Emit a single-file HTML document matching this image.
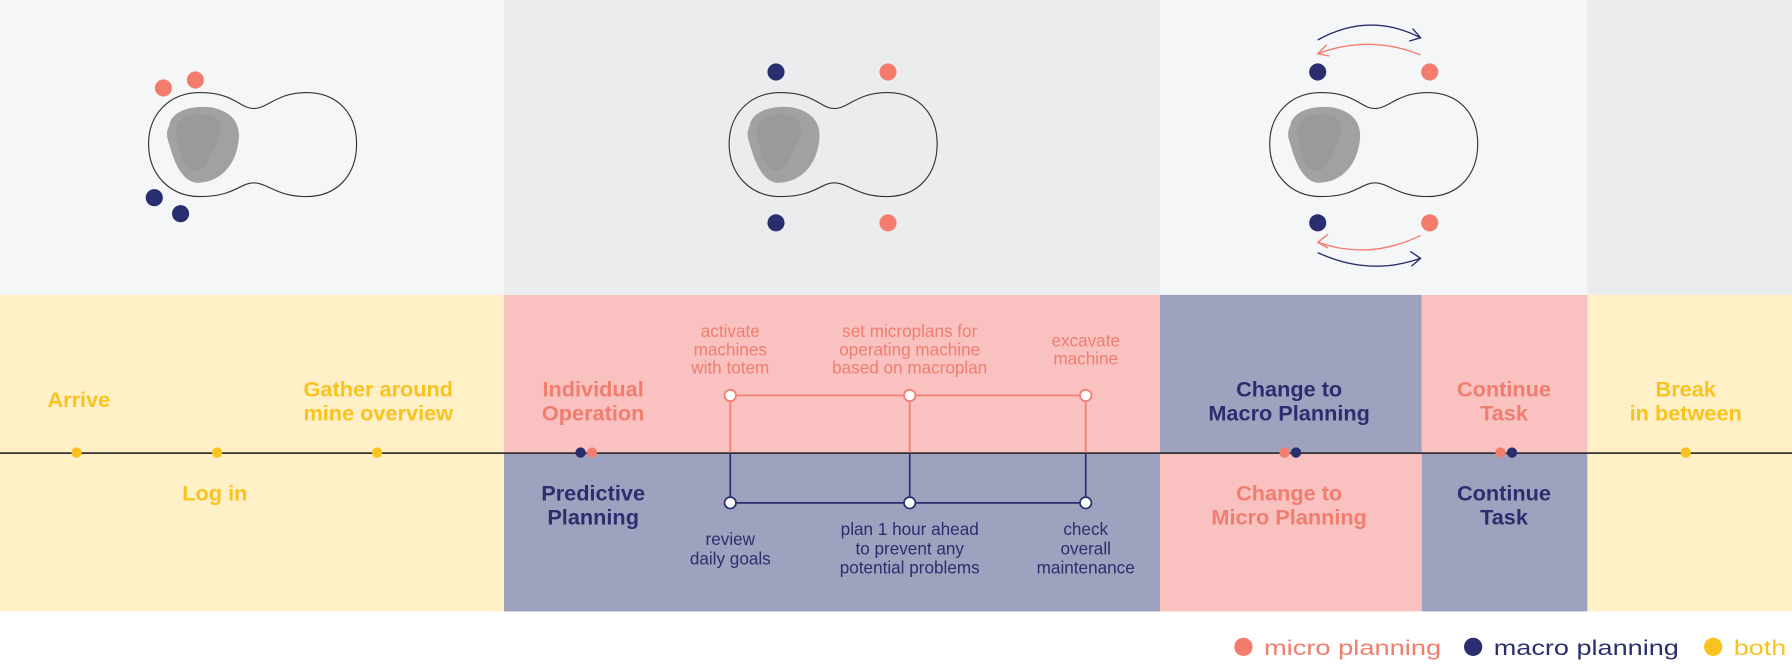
<!DOCTYPE html>
<html><head><meta charset="utf-8"><style>
html,body{margin:0;padding:0;width:1792px;height:664px;overflow:hidden;background:#fff}
#wrap{position:absolute;left:0;top:0;width:1568px;height:581px;transform:scale(1.142857);transform-origin:0 0;font-family:"Liberation Sans",sans-serif}
svg text{font-family:"Liberation Sans",sans-serif}
</style></head><body>
<div id="wrap">
<svg width="1568" height="581" viewBox="0 0 1568 581">
<!-- top panels -->
<rect x="0" y="0" width="441" height="258" fill="#f5f6f8"/>
<rect x="441" y="0" width="574" height="258" fill="#ebecee"/>
<rect x="1015" y="0" width="374" height="258" fill="#f5f6f8"/>
<rect x="1389" y="0" width="179" height="258" fill="#ebecee"/>
<!-- bottom bands -->
<rect x="0" y="258" width="441" height="277" fill="#fff0c8"/>
<rect x="441" y="258" width="574" height="138" fill="#f9c2c0"/>
<rect x="441" y="396" width="574" height="139" fill="#9ea2be"/>
<rect x="1015" y="258" width="229" height="138" fill="#9ea2be"/>
<rect x="1015" y="396" width="229" height="139" fill="#f9c2c0"/>
<rect x="1244" y="258" width="145" height="138" fill="#f9c2c0"/>
<rect x="1244" y="396" width="145" height="139" fill="#9ea2be"/>
<rect x="1389" y="258" width="179" height="277" fill="#fff0c8"/>

<!-- mines -->
<g>
<path d="M175,81 C205,81 210,95 222,95 C234,95 242,81 268,81 C296,81 312,100 312,126 C312,152 296,172 268,172 C242,172 234,160 222,160 C210,160 205,172 175,172 C148,172 130,152 130,126 C130,100 148,81 175,81Z" fill="none" stroke="#333" stroke-width="1"/>
<path d="M148,110 C150,96 170,92 185,94 C205,98 212,110 208,128 C204,148 190,160 172,160 C158,158 152,140 148,126 C145,118 146,114 148,110Z" fill="#a1a1a2"/>
<path d="M156,108 C160,100 175,98 186,102 C196,106 194,118 188,128 C182,140 180,150 170,150 C160,148 158,134 155,122 C153,116 154,112 156,108Z" fill="#999b9b"/>
</g>
<g>
<path d="M683,81 C713,81 718,95 730,95 C742,95 750,81 776,81 C804,81 820,100 820,126 C820,152 804,172 776,172 C750,172 742,160 730,160 C718,160 713,172 683,172 C656,172 638,152 638,126 C638,100 656,81 683,81Z" fill="none" stroke="#333" stroke-width="1"/>
<path d="M656,110 C658,96 678,92 693,94 C713,98 720,110 716,128 C712,148 698,160 680,160 C666,158 660,140 656,126 C653,118 654,114 656,110Z" fill="#a1a1a2"/>
<path d="M664,108 C668,100 683,98 694,102 C704,106 702,118 696,128 C690,140 688,150 678,150 C668,148 666,134 663,122 C661,116 662,112 664,108Z" fill="#999b9b"/>
</g>
<g>
<path d="M1156,81 C1186,81 1191,95 1203,95 C1215,95 1223,81 1249,81 C1277,81 1293,100 1293,126 C1293,152 1277,172 1249,172 C1223,172 1215,160 1203,160 C1191,160 1186,172 1156,172 C1129,172 1111,152 1111,126 C1111,100 1129,81 1156,81Z" fill="none" stroke="#333" stroke-width="1"/>
<path d="M1129,110 C1131,96 1151,92 1166,94 C1186,98 1193,110 1189,128 C1185,148 1171,160 1153,160 C1139,158 1133,140 1129,126 C1126,118 1127,114 1129,110Z" fill="#a1a1a2"/>
<path d="M1137,108 C1141,100 1156,98 1167,102 C1177,106 1175,118 1169,128 C1163,140 1161,150 1151,150 C1141,148 1139,134 1136,122 C1134,116 1135,112 1137,108Z" fill="#999b9b"/>
</g>
<!-- people dots -->
<g>
<circle cx="143" cy="77" r="7.5" fill="#f47c6e"/><circle cx="171" cy="70" r="7.5" fill="#f47c6e"/>
<circle cx="135" cy="173" r="7.5" fill="#2b2e6e"/><circle cx="158" cy="187" r="7.5" fill="#2b2e6e"/>
<circle cx="679" cy="63" r="7.5" fill="#2b2e6e"/><circle cx="777" cy="63" r="7.5" fill="#f47c6e"/>
<circle cx="679" cy="195" r="7.5" fill="#2b2e6e"/><circle cx="777" cy="195" r="7.5" fill="#f47c6e"/>
<circle cx="1153" cy="63" r="7.5" fill="#2b2e6e"/><circle cx="1251" cy="63" r="7.5" fill="#f47c6e"/>
<circle cx="1153" cy="195" r="7.5" fill="#2b2e6e"/><circle cx="1251" cy="195" r="7.5" fill="#f47c6e"/>
</g>
<!-- arrows -->
<g fill="none" stroke-width="1.2">
<path d="M1153,35 Q1198,10 1243,33" stroke="#2b2e6e"/><path d="M1236,25 L1243,33 L1233,36" stroke="#2b2e6e"/>
<path d="M1243,48 Q1198,30 1153,47" stroke="#f47c6e"/><path d="M1161,39 L1153,47 L1163,49" stroke="#f47c6e"/>
<path d="M1243,206 Q1198,228 1153,212" stroke="#f47c6e"/><path d="M1162,205 L1153,212 L1162,217" stroke="#f47c6e"/>
<path d="M1153,221 Q1198,242 1243,226" stroke="#2b2e6e"/><path d="M1234,220 L1243,226 L1235,233" stroke="#2b2e6e"/>
</g>

<!-- timeline -->
<line x1="0" y1="396.5" x2="1568" y2="396.5" stroke="#333" stroke-width="1.5"/>
<g>
<polyline points="639,396 639,346 950,346 950,396" fill="none" stroke="#f47c6e" stroke-width="1.5"/>
<line x1="796" y1="346" x2="796" y2="396" stroke="#f47c6e" stroke-width="1.5"/>
<circle cx="639" cy="346" r="5" fill="#fff" stroke="#f47c6e" stroke-width="1.5"/>
<circle cx="796" cy="346" r="5" fill="#fff" stroke="#f47c6e" stroke-width="1.5"/>
<circle cx="950" cy="346" r="5" fill="#fff" stroke="#f47c6e" stroke-width="1.5"/>
</g>
<g>
<polyline points="639,396 639,440 950,440 950,396" fill="none" stroke="#2b2e6e" stroke-width="1.5"/>
<line x1="796" y1="396" x2="796" y2="440" stroke="#2b2e6e" stroke-width="1.5"/>
<circle cx="639" cy="440" r="5" fill="#fff" stroke="#2b2e6e" stroke-width="1.5"/>
<circle cx="796" cy="440" r="5" fill="#fff" stroke="#2b2e6e" stroke-width="1.5"/>
<circle cx="950" cy="440" r="5" fill="#fff" stroke="#2b2e6e" stroke-width="1.5"/>
</g>
<g>
<circle cx="67" cy="396" r="4.5" fill="#f9c31f"/><circle cx="190" cy="396" r="4.5" fill="#f9c31f"/><circle cx="330" cy="396" r="4.5" fill="#f9c31f"/>
<circle cx="518" cy="396" r="4.5" fill="#f47c6e"/><circle cx="508" cy="396" r="4.5" fill="#2b2e6e"/>
<circle cx="1124" cy="396" r="4.5" fill="#f47c6e"/><circle cx="1134" cy="396" r="4.5" fill="#2b2e6e"/>
<circle cx="1313" cy="396" r="4.5" fill="#f47c6e"/><circle cx="1323" cy="396" r="4.5" fill="#2b2e6e"/>
<circle cx="1475" cy="396" r="4.5" fill="#f9c31f"/>
</g>
<g font-size="19" font-weight="bold" text-anchor="middle">
<text x="69" y="356" fill="#f9c31f">Arrive</text>
<text x="188" y="438" fill="#f9c31f">Log in</text>
<text fill="#f9c31f"><tspan x="331" y="347">Gather around</tspan><tspan x="331" y="368">mine overview</tspan></text>
<text fill="#f07d6e"><tspan x="519" y="347">Individual</tspan><tspan x="519" y="368">Operation</tspan></text>
<text fill="#2b2e6e"><tspan x="519" y="438">Predictive</tspan><tspan x="519" y="459">Planning</tspan></text>
<text fill="#2b2e6e"><tspan x="1128" y="347">Change to</tspan><tspan x="1128" y="368">Macro Planning</tspan></text>
<text fill="#f07d6e"><tspan x="1128" y="438">Change to</tspan><tspan x="1128" y="459">Micro Planning</tspan></text>
<text fill="#f07d6e"><tspan x="1316" y="347">Continue</tspan><tspan x="1316" y="368">Task</tspan></text>
<text fill="#2b2e6e"><tspan x="1316" y="438">Continue</tspan><tspan x="1316" y="459">Task</tspan></text>
<text fill="#f9c31f"><tspan x="1475" y="347">Break</tspan><tspan x="1475" y="368">in between</tspan></text>
</g>
<g font-size="15" text-anchor="middle">
<text fill="#f07d6e"><tspan x="639" y="295">activate</tspan><tspan x="639" y="311">machines</tspan><tspan x="639" y="327">with totem</tspan></text>
<text fill="#f07d6e"><tspan x="796" y="295">set microplans for</tspan><tspan x="796" y="311">operating machine</tspan><tspan x="796" y="327">based on macroplan</tspan></text>
<text fill="#f07d6e"><tspan x="950" y="303">excavate</tspan><tspan x="950" y="319">machine</tspan></text>
<text fill="#2b2e6e"><tspan x="639" y="477">review</tspan><tspan x="639" y="494">daily goals</tspan></text>
<text fill="#2b2e6e"><tspan x="796" y="468">plan 1 hour ahead</tspan><tspan x="796" y="485">to prevent any</tspan><tspan x="796" y="502">potential problems</tspan></text>
<text fill="#2b2e6e"><tspan x="950" y="468">check</tspan><tspan x="950" y="485">overall</tspan><tspan x="950" y="502">maintenance</tspan></text>
</g>
<g font-size="19">
<g><circle cx="1088" cy="566" r="8" fill="#f47c6e"/><text x="1106" y="573" fill="#f07d6e" textLength="155" lengthAdjust="spacingAndGlyphs">micro planning</text></g>
<g><circle cx="1289" cy="566" r="8" fill="#2b2e6e"/><text x="1307" y="573" fill="#2b2e6e" textLength="162" lengthAdjust="spacingAndGlyphs">macro planning</text></g>
<g><circle cx="1499" cy="566" r="8" fill="#f9c31f"/><text x="1517" y="573" fill="#f9c31f" textLength="46" lengthAdjust="spacingAndGlyphs">both</text></g>
</g>
</svg>
</div>
</body></html>
